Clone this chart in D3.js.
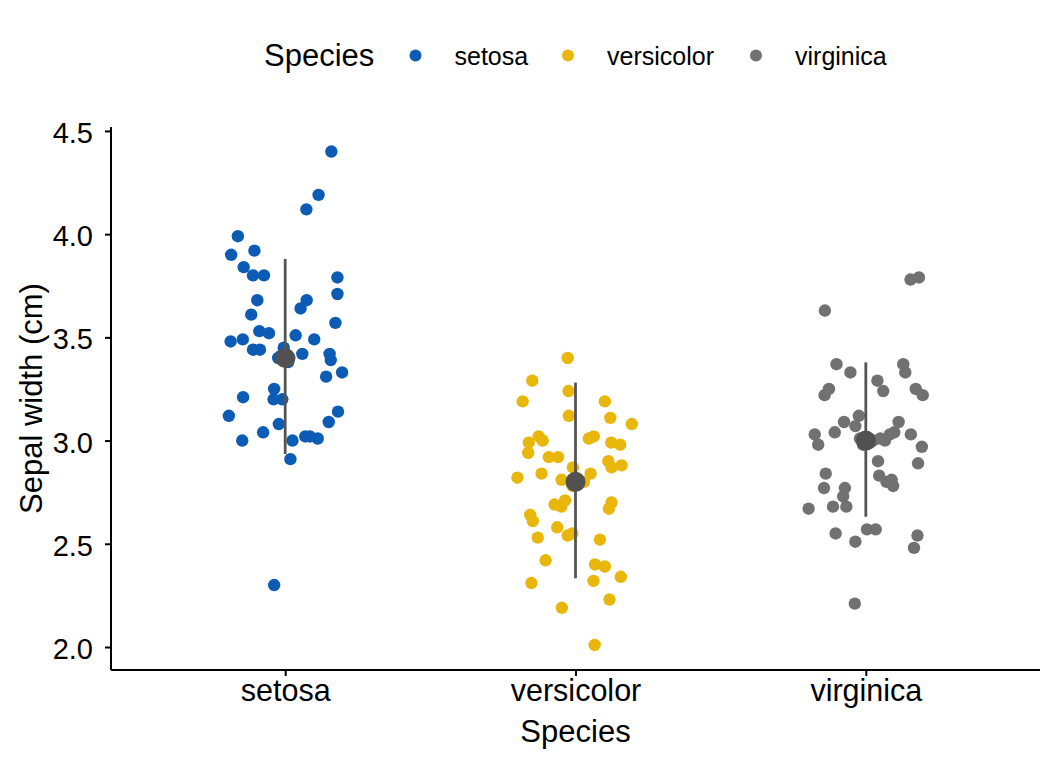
<!DOCTYPE html>
<html><head><meta charset="utf-8">
<script src="https://cdn.jsdelivr.net/npm/d3@7"></script>
<style>body{margin:0;background:#fff}svg{font-family:"Liberation Sans",Arial,sans-serif}</style>
</head><body>
<svg id="c" width="1056" height="768"></svg>
<script>
const categories = ["setosa","versicolor","virginica"];
const colors = ["#0C5CB5","#E9B70C","#717171"];
const yTicks = [2.0,2.5,3.0,3.5,4.0,4.5];

const setosaValues = [4.40,4.19,4.12,3.99,3.92,3.90,3.84,3.80,3.80,3.79,3.71,3.68,3.68,3.64,3.61,3.57,3.53,3.52,3.51,3.48,3.49,3.49,3.44,3.44,3.42,3.42,3.40,3.40,3.39,3.33,3.31,3.21,3.25,3.20,3.20,3.12,3.14,3.09,3.08,3.04,3.00,3.00,3.02,3.02,3.01,2.91,2.30,3.45,3.38,3.41];
const setosaJitter = [0.159,0.115,0.073,-0.163,-0.106,-0.186,-0.143,-0.111,-0.073,0.180,0.180,-0.096,0.074,0.053,-0.117,0.173,-0.089,-0.056,0.036,-0.188,-0.146,0.100,-0.111,-0.087,0.059,0.153,-0.024,0.014,0.157,0.196,0.141,-0.145,-0.038,-0.040,-0.010,-0.194,0.182,0.150,-0.022,-0.076,-0.148,0.025,0.069,0.085,0.112,0.018,-0.038,-0.005,0.010,-0.015];

const versicolorValues = [3.40,3.29,3.24,3.19,3.19,3.11,3.08,3.12,3.02,2.99,3.00,2.94,3.01,3.02,2.99,2.98,2.92,2.92,2.90,2.87,2.88,2.87,2.82,2.84,2.84,2.81,2.80,2.69,2.71,2.68,2.70,2.67,2.64,2.61,2.58,2.54,2.55,2.53,2.52,2.42,2.40,2.39,2.31,2.32,2.34,2.23,2.19,2.01,2.79,2.78];
const versicolorJitter = [-0.027,-0.149,-0.024,-0.182,0.101,0.120,0.194,-0.023,-0.127,-0.161,-0.113,-0.163,0.046,0.063,0.123,0.154,-0.092,-0.060,0.113,0.124,0.159,-0.009,-0.200,-0.117,0.052,-0.048,0.029,-0.072,-0.036,-0.049,0.124,0.115,-0.156,-0.147,-0.063,-0.027,-0.011,-0.130,0.084,-0.103,0.067,0.101,-0.152,0.062,0.156,0.117,-0.047,0.066,0.010,-0.010];

const virginicaValues = [3.78,3.79,3.63,3.37,3.33,3.37,3.33,3.29,3.24,3.25,3.22,3.25,3.22,3.12,3.09,3.07,3.09,3.04,3.03,3.03,3.04,3.03,2.98,3.00,2.97,2.90,2.89,2.84,2.83,2.80,2.78,2.81,2.77,2.77,2.73,2.67,2.68,2.68,2.57,2.57,2.55,2.51,2.54,2.48,2.21,3.01,2.99,3.00,3.01,2.98];
const virginicaJitter = [0.154,0.183,-0.141,-0.101,-0.053,0.129,0.136,0.040,0.060,-0.127,-0.142,0.172,0.196,-0.024,-0.075,-0.036,0.113,-0.107,-0.176,0.083,0.098,0.155,-0.164,0.066,0.193,0.042,0.180,-0.138,0.046,0.071,0.094,0.089,-0.144,-0.072,-0.078,-0.197,-0.113,-0.067,0.004,0.034,-0.104,-0.036,0.178,0.166,-0.038,-0.020,0.015,0.025,0.050,-0.010];

const summaryCenter = [3.40,2.80,3.00];
const summaryLow = [2.935,2.333,2.631];
const summaryHigh = [3.880,3.281,3.379];

const valueSets = [setosaValues, versicolorValues, virginicaValues];
const jitterSets = [setosaJitter, versicolorJitter, virginicaJitter];

const svg = d3.select("#c");
const mLeft = 111, mRight = 1040, mTop = 127, mBottom = 670;

// discrete x like ggplot: expand 0.6 units each side
const x = d3.scaleLinear().domain([0.4, 3.6]).range([mLeft, mRight]);
const y = d3.scaleLinear().domain([1.8886, 4.519]).range([mBottom, mTop]);

// points
const pts = [];
categories.forEach((c,i)=>{
  valueSets[i].forEach((v,k)=>pts.push({cat:i, v, j:jitterSets[i][k]}));
});
svg.append("g").selectAll("circle").data(pts).join("circle")
  .attr("cx", d=>x(d.cat+1+d.j))
  .attr("cy", d=>y(d.v))
  .attr("r", 6.2)
  .attr("fill", d=>colors[d.cat]);

// summary
const sg = svg.append("g");
categories.forEach((c,i)=>{
  sg.append("line")
    .attr("x1", x(i+1)).attr("x2", x(i+1))
    .attr("y1", y(summaryLow[i])).attr("y2", y(summaryHigh[i]))
    .attr("stroke", "#555555").attr("stroke-width", 2.8);
  sg.append("circle")
    .attr("cx", x(i+1)).attr("cy", y(summaryCenter[i]))
    .attr("r", 10).attr("fill", "#515151");
});

// axes
const yAxis = d3.axisLeft(y).tickValues(yTicks).tickFormat(d3.format(".1f")).tickSize(6).tickPadding(12);
const gy = svg.append("g").attr("transform", `translate(${mLeft},0)`).call(yAxis);
gy.select(".domain").attr("d", `M0,${mTop}V${mBottom}`).attr("stroke","#000").attr("stroke-width",2);
gy.selectAll(".tick line").attr("stroke","#000").attr("stroke-width",2);
gy.selectAll(".tick text").attr("font-size", 29).attr("dy","0.4em").attr("fill","#000").attr("font-family","Liberation Sans, Arial, sans-serif");

const xAxis = d3.axisBottom(x).tickValues([1,2,3]).tickFormat(d=>categories[d-1]).tickSize(6).tickPadding(3);
const gx = svg.append("g").attr("transform", `translate(0,${mBottom})`).call(xAxis);
gx.select(".domain").attr("d", `M${mLeft},0H${mRight}`).attr("stroke","#000").attr("stroke-width",2);
gx.selectAll(".tick line").attr("stroke","#000").attr("stroke-width",2);
gx.selectAll(".tick text").attr("font-size", 30.5).attr("fill","#000").attr("font-family","Liberation Sans, Arial, sans-serif");

// axis titles
svg.append("text").attr("x", (mLeft+mRight)/2).attr("y", 742).attr("text-anchor","middle")
  .attr("font-size", 31).text("Species");
svg.append("text").attr("transform", `translate(41.5,${(mTop+mBottom)/2}) rotate(-90)`).attr("text-anchor","middle")
  .attr("font-size", 31).text("Sepal width (cm)");

// legend
const lg = svg.append("g");
lg.append("text").attr("x", 264).attr("y", 66).attr("font-size", 31).text("Species");
const legX = [415.5, 568, 756];
categories.forEach((c,i)=>{
  lg.append("circle").attr("cx", legX[i]).attr("cy", 55.5).attr("r", 6).attr("fill", colors[i]);
  lg.append("text").attr("x", legX[i]+39).attr("y", 65).attr("font-size", 25).text(c);
});
</script>
</body></html>
